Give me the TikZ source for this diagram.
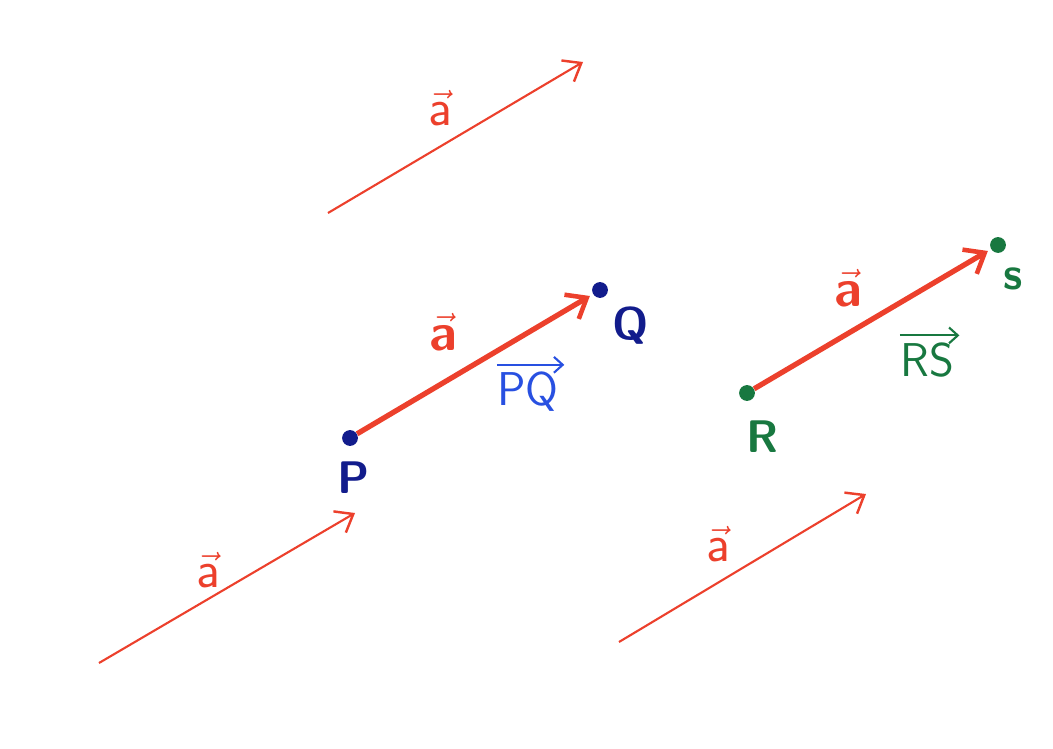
\documentclass[tikz,border=0pt]{standalone}
\usepackage{amsmath}
\usetikzlibrary{arrows.meta}
\definecolor{vred}{RGB}{236,64,44}
\definecolor{vblue}{RGB}{18,28,140}
\definecolor{lblue}{RGB}{40,80,225}
\definecolor{vgreen}{RGB}{24,120,64}
\tikzset{
  thinvec/.style={draw=vred, line width=1.2pt, -{Straight Barb[length=9pt,width=14pt,line width=1.4pt]}},
  thickvec/.style={draw=vred, line width=3pt, -{Straight Barb[length=10pt,width=16pt,line width=2.6pt]}, shorten >=2pt},
  pt/.style={circle, fill=#1, inner sep=0pt, minimum size=9pt},
  alab/.style={text=vred, font=\fontsize{30}{34}\selectfont\sffamily},
  balab/.style={text=vred, font=\fontsize{30}{34}\selectfont\sffamily\bfseries},
  plab/.style={text=#1, font=\fontsize{26}{30}\selectfont\sffamily\bfseries},
  veclab/.style={text=#1, font=\fontsize{27}{31}\selectfont\sffamily, inner sep=1pt},
  accent/.style={draw=#1, line width=1.2pt, -{Straight Barb[length=5pt,width=9pt]}},
}
\begin{document}
\begin{tikzpicture}[x=0.02cm,y=-0.02cm]
\useasboundingbox (0,0) rectangle (1053,749);
% points
\node[pt=vblue] (P) at (350,438) {};
\node[pt=vblue] (Q) at (600,290) {};
\node[pt=vgreen] (R) at (747,393) {};
\node[pt=vgreen] (S) at (998,245) {};
% free vectors
\coordinate (t1) at (328,213); \coordinate (t2) at (583,62);
\coordinate (l1) at (99,663);  \coordinate (l2) at (355,513);
\coordinate (r1) at (619,642); \coordinate (r2) at (866,494);
\draw[thinvec] (t1) -- (t2);
\draw[thinvec] (l1) -- (l2);
\draw[thinvec] (r1) -- (r2);
\draw[thickvec] (P) -- (Q);
\draw[thickvec] (R) -- (S);
% labels
\node[alab] (at) at (440,108) {$\vec{\textsf{a}}$};
\node[alab] (al) at (208,570) {$\vec{\textsf{a}}$};
\node[alab] (ar) at (718,544) {$\vec{\textsf{a}}$};
\node[balab] (apq) at (443,332) {$\vec{\textsf{\textbf{a}}}$};
\node[balab] (ars) at (848,288) {$\vec{\textsf{\textbf{a}}}$};
\node[veclab=lblue] (pq) at (528,392) {PQ};
\draw[accent=lblue] ([xshift=1pt,yshift=3pt]pq.north west) -- ([xshift=2pt,yshift=3pt]pq.north east);
\node[veclab=vgreen] (rs) at (927,360) {RS};
\draw[accent=vgreen] ([xshift=1pt,yshift=3pt]rs.north west) -- ([xshift=2pt,yshift=3pt]rs.north east);
\node[plab=vblue] (Pl) at (354,478) {P};
\node[plab=vblue] (Ql) at (631,326) {Q};
\node[plab=vgreen] (Rl) at (763,437) {R};
\node[plab=vgreen] (Sl) at (1013,279) {s};
\end{tikzpicture}
\end{document}
